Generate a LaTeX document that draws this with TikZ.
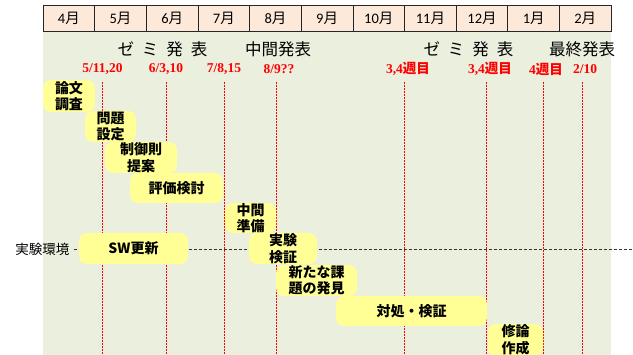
\documentclass[tikz,border=0pt]{standalone}
\usepackage{fontspec}
\setmainfont{Noto Sans CJK JP}
\newfontfamily\lsr{Liberation Serif}
\newfontfamily\crl{Carlito}
\definecolor{bg}{RGB}{235,239,222}
\definecolor{hd}{RGB}{253,233,217}
\definecolor{yl}{RGB}{255,255,150}
\definecolor{rd}{RGB}{255,0,0}
\begin{document}
\begin{tikzpicture}[x=1pt,y=-1pt,
  bx/.style={fill=yl, rounded corners=8pt, inner sep=0pt, align=center,
    font=\fontsize{14}{16.5}\selectfont\bfseries},
  hcell/.style={draw=black!85, line width=0.8pt, fill=hd, inner sep=0pt,
    minimum width=51.64pt, minimum height=26pt, anchor=north west,
    font=\fontsize{14.5}{16}\selectfont},
  rline/.style={draw=rd, line width=0.8pt, dash pattern=on 1.6pt off 1.4pt},
  envline/.style={draw=black!80, line width=0.8pt, dash pattern=on 3pt off 2pt},
  rlab/.style={text=rd, inner sep=0pt, font=\lsr\bfseries\fontsize{13.5}{16}\selectfont},
  toplab/.style={inner sep=0pt, font=\fontsize{16.5}{18}\selectfont},
  sidelab/.style={inner sep=0pt, font=\fontsize{13.5}{16}\selectfont}]
\useasboundingbox (0,0) rectangle (633,355);
\fill[bg] (42.7,31) rectangle (610.7,355);
% header
\foreach \m [count=\i from 0] in {4,5,6,7,8,9,10,11,12,1,2}
  \node[hcell] (m\i) at ({42.7+51.64*\i},5) {{\crl\m}月};
% top labels
\node[toplab] (z1) at (162.5,49) {ゼ\hspace{8pt}ミ\hspace{8pt}発\hspace{8pt}表};
\node[toplab] (chukan) at (278,49) {中間発表};
\node[toplab] (z2) at (468.5,49) {ゼ\hspace{8pt}ミ\hspace{8pt}発\hspace{8pt}表};
\node[toplab] (saishu) at (582,49) {最終発表};
% red labels
\node[rlab] (d1) at (102.5,69) {5/11,20};
\node[rlab] (d2) at (166,69) {6/3,10};
\node[rlab] (d3) at (224,69) {7/8,15};
\node[rlab] (d4) at (279,69) {8/9??};
\node[rlab] (d5) at (408,69) {3,4{\normalfont\bfseries 週目}};
\node[rlab] (d6) at (490,69) {3,4{\normalfont\bfseries 週目}};
\node[rlab] (d7) at (546,69) {4{\normalfont\bfseries 週目}};
\node[rlab] (d8) at (585,69) {2/10};
% red dashed lines
\foreach \x [count=\k] in {102.7,166.7,224,276.7,404,486.7,543,582}{
  \coordinate (rt\k) at (\x,82);
  \coordinate (rb\k) at (\x,356);
  \draw[rline] (rt\k) -- (rb\k);
}
% environment line
\node[sidelab] (env) at (42.5,249) {実験環境};
\coordinate (envend) at (633,249);
\draw[envline] (env.east) ++(4,0) -- (envend);
% boxes
\node[bx, minimum width=52pt, minimum height=32pt] (ronbun) at (69,96) {論文\\調査};
\node[bx, minimum width=51pt, minimum height=31pt] (mondai) at (110.5,126.5) {問題\\設定};
\node[bx, minimum width=72pt, minimum height=31pt] (seigyo) at (141,157.5) {制御則\\提案};
\node[bx, minimum width=93pt, minimum height=30pt] (hyoka) at (176.5,188) {評価検討};
\node[bx, minimum width=51pt, minimum height=30pt] (junbi) at (250.5,218) {中間\\準備};
\node[bx, minimum width=109pt, minimum height=31pt] (sw) at (133.5,248.5) {SW更新};
\node[bx, minimum width=68pt, minimum height=31pt] (kensho) at (283,248.5) {実験\\検証};
\node[bx, minimum width=81pt, minimum height=31pt] (kadai) at (316.5,280.5) {新たな課\\題の発見};
\node[bx, minimum width=151pt, minimum height=30pt] (taisho) at (411.5,311) {対処・検証};
\node[bx, minimum width=55pt, minimum height=32pt] (shuron) at (515.5,340) {修論\\作成};
\end{tikzpicture}
\end{document}
